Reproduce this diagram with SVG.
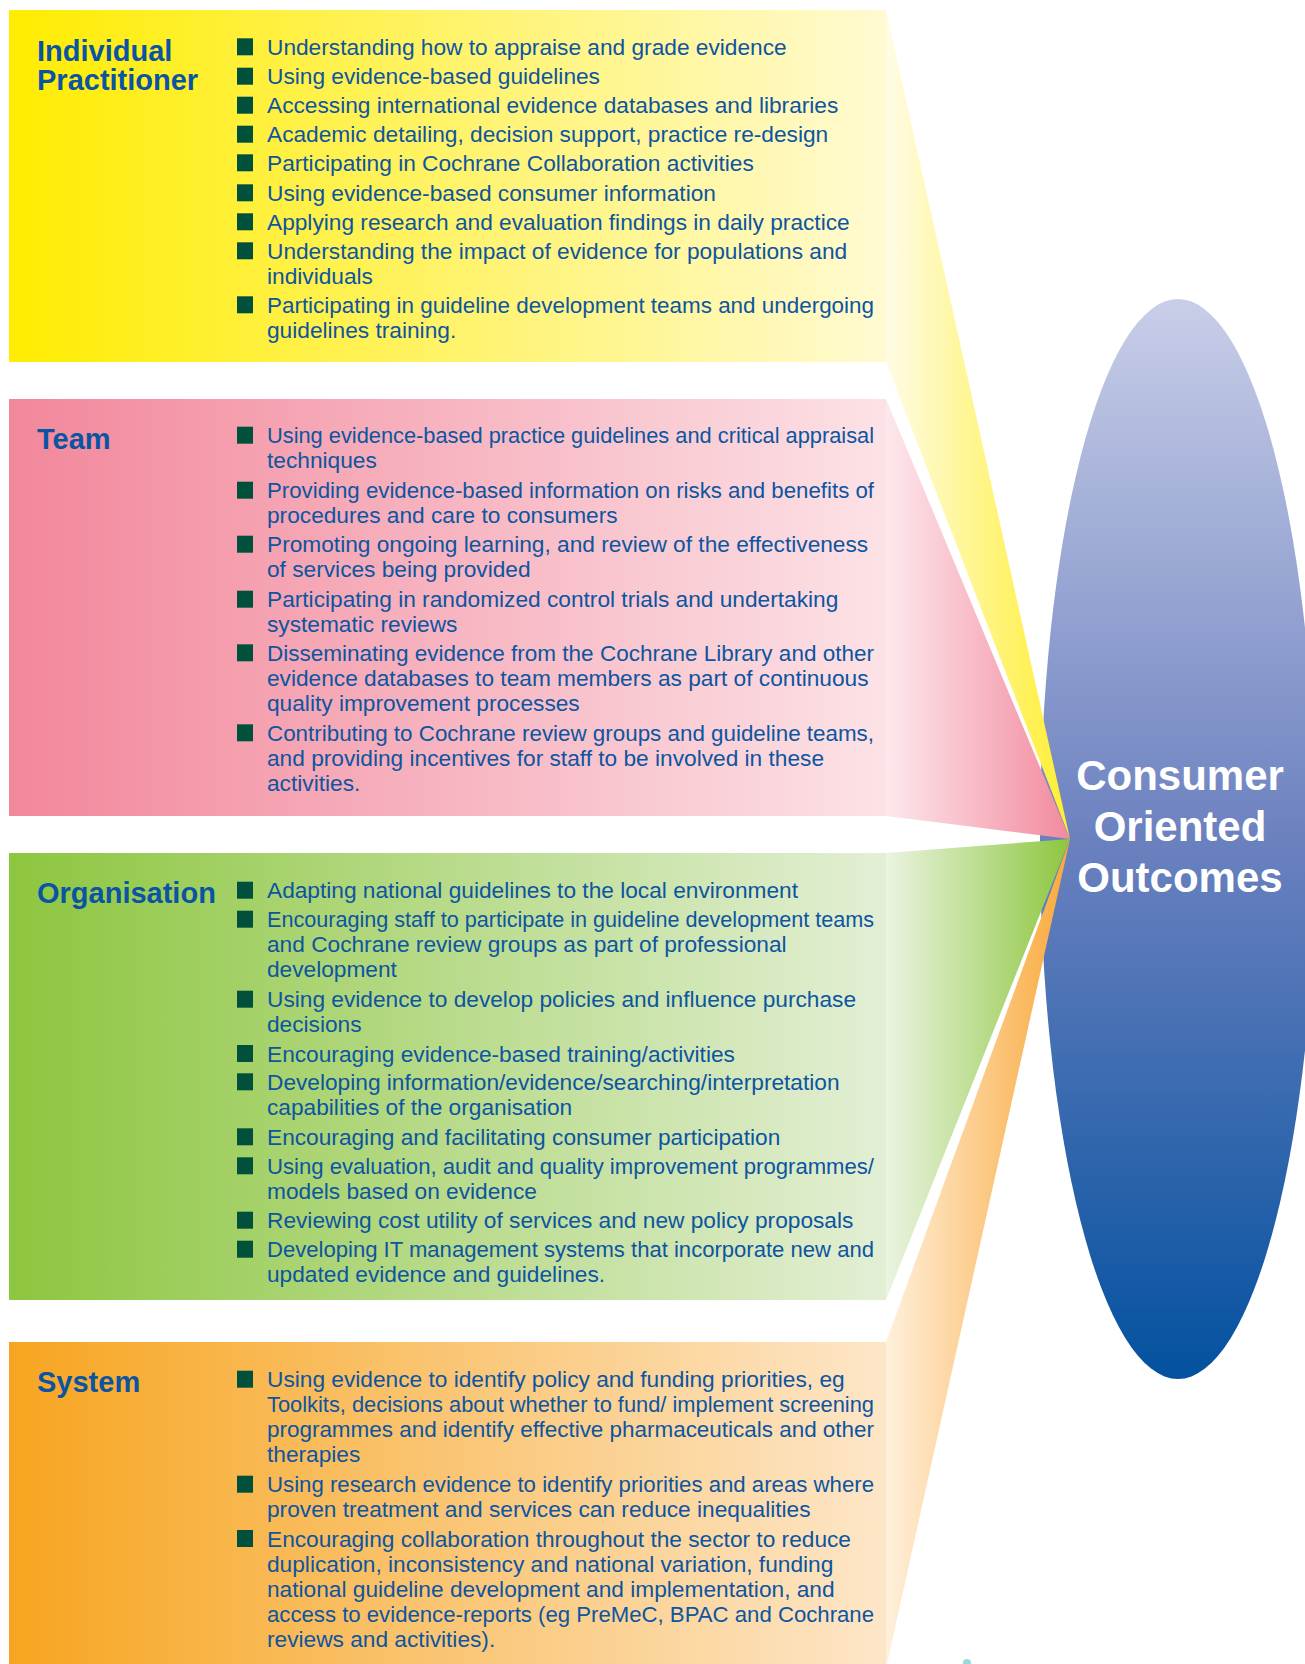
<svg xmlns="http://www.w3.org/2000/svg" width="1305" height="1664" viewBox="0 0 1305 1664">
<defs>
<linearGradient id="gY" x1="9" y1="0" x2="886" y2="0" gradientUnits="userSpaceOnUse"><stop offset="0" stop-color="#ffec00"/><stop offset="1" stop-color="#fffad2"/></linearGradient>
<linearGradient id="gYf" x1="886" y1="0" x2="1070" y2="0" gradientUnits="userSpaceOnUse"><stop offset="0" stop-color="#fffce6"/><stop offset="1" stop-color="#ffee30"/></linearGradient>
<linearGradient id="gP" x1="9" y1="0" x2="886" y2="0" gradientUnits="userSpaceOnUse"><stop offset="0" stop-color="#f2879b"/><stop offset="1" stop-color="#fce2e6"/></linearGradient>
<linearGradient id="gPf" x1="886" y1="0" x2="1070" y2="0" gradientUnits="userSpaceOnUse"><stop offset="0" stop-color="#fde8ec"/><stop offset="1" stop-color="#f28a9e"/></linearGradient>
<linearGradient id="gG" x1="9" y1="0" x2="886" y2="0" gradientUnits="userSpaceOnUse"><stop offset="0" stop-color="#8dc63f"/><stop offset="1" stop-color="#e3efd5"/></linearGradient>
<linearGradient id="gGf" x1="886" y1="0" x2="1070" y2="0" gradientUnits="userSpaceOnUse"><stop offset="0" stop-color="#ebf4e1"/><stop offset="1" stop-color="#8dc63f"/></linearGradient>
<linearGradient id="gO" x1="9" y1="0" x2="886" y2="0" gradientUnits="userSpaceOnUse"><stop offset="0" stop-color="#f7a520"/><stop offset="1" stop-color="#fde6c8"/></linearGradient>
<linearGradient id="gOf" x1="886" y1="0" x2="1070" y2="0" gradientUnits="userSpaceOnUse"><stop offset="0" stop-color="#fff0dc"/><stop offset="1" stop-color="#f9a83a"/></linearGradient>
<linearGradient id="gE" x1="0" y1="299" x2="0" y2="1379" gradientUnits="userSpaceOnUse"><stop offset="0" stop-color="#c9cee8"/><stop offset="0.5" stop-color="#6b81bf"/><stop offset="1" stop-color="#03519f"/></linearGradient>
</defs>
<style>
.h{font-family:"Liberation Sans",Arial,Helvetica,sans-serif;font-weight:bold;font-size:29px;fill:#0b54a2}
.t{font-family:"Liberation Sans",Arial,Helvetica,sans-serif;font-size:22.7px;fill:#0d55a0}
.b{fill:#00503c}
.c{font-family:"Liberation Sans",Arial,Helvetica,sans-serif;font-weight:bold;font-size:42px;fill:#ffffff;text-anchor:middle}
</style>
<rect width="1305" height="1664" fill="#ffffff"/>
<g id="node-outcomes">
<ellipse cx="1178" cy="839" rx="138" ry="540" fill="url(#gE)"/>
</g>
<g id="connectors">
<polygon points="886,10 1070,839 886,362" fill="url(#gYf)"/>
<polygon points="886,399 1070,839 886,816" fill="url(#gPf)"/>
<polygon points="886,853 1070,839 886,1300" fill="url(#gGf)"/>
<polygon points="886,1342 1070,839 887,1664 886,1664" fill="url(#gOf)"/>
</g>
<g id="outcomes-label">
<text class="c" x="1180" y="790">Consumer</text>
<text class="c" x="1180" y="841">Oriented</text>
<text class="c" x="1180" y="892">Outcomes</text>
</g>
<g id="node-individual">
<rect x="9" y="10" width="877" height="352" fill="url(#gY)"/>
<text class="h" x="37" y="61">Individual</text>
<text class="h" x="37" y="90">Practitioner</text>
<rect class="b" x="237" y="38.3" width="16" height="17"/>
<rect class="b" x="237" y="67.7" width="16" height="17"/>
<rect class="b" x="237" y="96.7" width="16" height="17"/>
<rect class="b" x="237" y="125.7" width="16" height="17"/>
<rect class="b" x="237" y="154.3" width="16" height="17"/>
<rect class="b" x="237" y="184.3" width="16" height="17"/>
<rect class="b" x="237" y="213.3" width="16" height="17"/>
<rect class="b" x="237" y="242.3" width="16" height="17"/>
<rect class="b" x="237" y="296.3" width="16" height="17"/>
<text class="t" x="267" y="55">Understanding how to appraise and grade evidence</text>
<text class="t" x="267" y="84.4">Using evidence-based guidelines</text>
<text class="t" x="267" y="113.4">Accessing international evidence databases and libraries</text>
<text class="t" x="267" y="142.4">Academic detailing, decision support, practice re-design</text>
<text class="t" x="267" y="171">Participating in Cochrane Collaboration activities</text>
<text class="t" x="267" y="201">Using evidence-based consumer information</text>
<text class="t" x="267" y="230">Applying research and evaluation findings in daily practice</text>
<text class="t" x="267" y="259">Understanding the impact of evidence for populations and</text>
<text class="t" x="267" y="284">individuals</text>
<text class="t" x="267" y="313" textLength="607" lengthAdjust="spacingAndGlyphs">Participating in guideline development teams and undergoing</text>
<text class="t" x="267" y="338">guidelines training.</text>
</g>
<g id="node-team">
<rect x="9" y="399" width="877" height="417" fill="url(#gP)"/>
<text class="h" x="37" y="449">Team</text>
<rect class="b" x="237" y="426.7" width="16" height="17"/>
<rect class="b" x="237" y="481.7" width="16" height="17"/>
<rect class="b" x="237" y="535.7" width="16" height="17"/>
<rect class="b" x="237" y="590.7" width="16" height="17"/>
<rect class="b" x="237" y="644.3" width="16" height="17"/>
<rect class="b" x="237" y="724.3" width="16" height="17"/>
<text class="t" x="267" y="443.4" textLength="607" lengthAdjust="spacingAndGlyphs">Using evidence-based practice guidelines and critical appraisal</text>
<text class="t" x="267" y="468.4">techniques</text>
<text class="t" x="267" y="498.4" textLength="607" lengthAdjust="spacingAndGlyphs">Providing evidence-based information on risks and benefits of</text>
<text class="t" x="267" y="523.4">procedures and care to consumers</text>
<text class="t" x="267" y="552.4">Promoting ongoing learning, and review of the effectiveness</text>
<text class="t" x="267" y="577.4">of services being provided</text>
<text class="t" x="267" y="607.4">Participating in randomized control trials and undertaking</text>
<text class="t" x="267" y="632.4">systematic reviews</text>
<text class="t" x="267" y="661" textLength="607" lengthAdjust="spacingAndGlyphs">Disseminating evidence from the Cochrane Library and other</text>
<text class="t" x="267" y="686">evidence databases to team members as part of continuous</text>
<text class="t" x="267" y="711">quality improvement processes</text>
<text class="t" x="267" y="741" textLength="607" lengthAdjust="spacingAndGlyphs">Contributing to Cochrane review groups and guideline teams,</text>
<text class="t" x="267" y="766">and providing incentives for staff to be involved in these</text>
<text class="t" x="267" y="791">activities.</text>
</g>
<g id="node-organisation">
<rect x="9" y="853" width="877" height="447" fill="url(#gG)"/>
<text class="h" x="37" y="903">Organisation</text>
<rect class="b" x="237" y="881.7" width="16" height="17"/>
<rect class="b" x="237" y="910.7" width="16" height="17"/>
<rect class="b" x="237" y="990.7" width="16" height="17"/>
<rect class="b" x="237" y="1045" width="16" height="17"/>
<rect class="b" x="237" y="1073.3" width="16" height="17"/>
<rect class="b" x="237" y="1128.3" width="16" height="17"/>
<rect class="b" x="237" y="1157.3" width="16" height="17"/>
<rect class="b" x="237" y="1211.7" width="16" height="17"/>
<rect class="b" x="237" y="1240.7" width="16" height="17"/>
<text class="t" x="267" y="898.4">Adapting national guidelines to the local environment</text>
<text class="t" x="267" y="927.4" textLength="607" lengthAdjust="spacingAndGlyphs">Encouraging staff to participate in guideline development teams</text>
<text class="t" x="267" y="952.4">and Cochrane review groups as part of professional</text>
<text class="t" x="267" y="977.4">development</text>
<text class="t" x="267" y="1007.4">Using evidence to develop policies and influence purchase</text>
<text class="t" x="267" y="1032.4">decisions</text>
<text class="t" x="267" y="1061.7">Encouraging evidence-based training/activities</text>
<text class="t" x="267" y="1090">Developing information/evidence/searching/interpretation</text>
<text class="t" x="267" y="1115">capabilities of the organisation</text>
<text class="t" x="267" y="1145">Encouraging and facilitating consumer participation</text>
<text class="t" x="267" y="1174" textLength="607" lengthAdjust="spacingAndGlyphs">Using evaluation, audit and quality improvement programmes/</text>
<text class="t" x="267" y="1199">models based on evidence</text>
<text class="t" x="267" y="1228.4">Reviewing cost utility of services and new policy proposals</text>
<text class="t" x="267" y="1257.4" textLength="607" lengthAdjust="spacingAndGlyphs">Developing IT management systems that incorporate new and</text>
<text class="t" x="267" y="1282.4">updated evidence and guidelines.</text>
</g>
<g id="node-system">
<rect x="9" y="1342" width="877" height="322" fill="url(#gO)"/>
<text class="h" x="37" y="1392">System</text>
<rect class="b" x="237" y="1370.7" width="16" height="17"/>
<rect class="b" x="237" y="1475.7" width="16" height="17"/>
<rect class="b" x="237" y="1530" width="16" height="17"/>
<text class="t" x="267" y="1387.4">Using evidence to identify policy and funding priorities, eg</text>
<text class="t" x="267" y="1412.4" textLength="607" lengthAdjust="spacingAndGlyphs">Toolkits, decisions about whether to fund/ implement screening</text>
<text class="t" x="267" y="1437.4" textLength="607" lengthAdjust="spacingAndGlyphs">programmes and identify effective pharmaceuticals and other</text>
<text class="t" x="267" y="1462.4">therapies</text>
<text class="t" x="267" y="1492.4" textLength="607" lengthAdjust="spacingAndGlyphs">Using research evidence to identify priorities and areas where</text>
<text class="t" x="267" y="1517.4">proven treatment and services can reduce inequalities</text>
<text class="t" x="267" y="1546.7">Encouraging collaboration throughout the sector to reduce</text>
<text class="t" x="267" y="1571.7">duplication, inconsistency and national variation, funding</text>
<text class="t" x="267" y="1596.7">national guideline development and implementation, and</text>
<text class="t" x="267" y="1621.7" textLength="607" lengthAdjust="spacingAndGlyphs">access to evidence-reports (eg PreMeC, BPAC and Cochrane</text>
<text class="t" x="267" y="1646.7">reviews and activities).</text>
</g>
<circle cx="967" cy="1663" r="4" fill="#7fd0d0" opacity="0.8"/>
</svg>
